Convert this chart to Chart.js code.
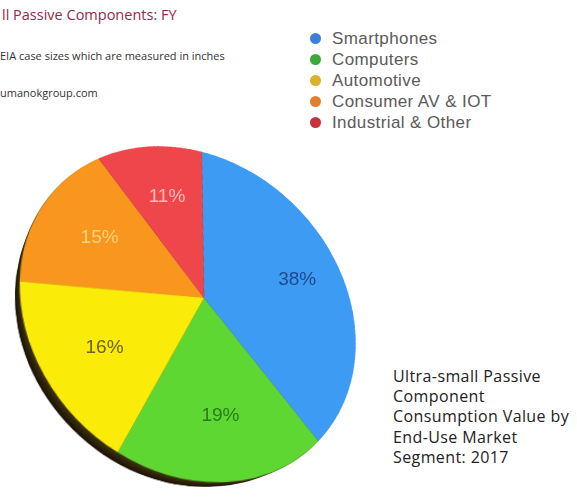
<!DOCTYPE html>
<html>
<head>
<meta charset="utf-8">
<script src="https://cdn.jsdelivr.net/npm/chart.js@4/dist/chart.umd.min.js"></script>
<style>
  html, body { margin: 0; padding: 0; background: #fff; }
  body { width: 577px; height: 504px; position: relative; overflow: hidden; }
  .title { position: absolute; left: 2px; top: 5px; font: 14.5px "Open Sans", sans-serif; color: #93294c; white-space: nowrap; }
  .note { position: absolute; left: 0; font: 11px "Open Sans", sans-serif; color: #333; white-space: nowrap; line-height: 15px; }
  #legend { position: absolute; left: 309px; top: 28px; }
  .row { height: 21px; display: flex; align-items: center; font: 17px "Liberation Sans", Arial, sans-serif; letter-spacing: 0.4px; color: #5a5a5a; white-space: nowrap; }
  .dot { width: 11px; height: 11px; border-radius: 50%; margin: 0 11px 0 1px; }
  .caption { position: absolute; left: 393px; top: 366px; font: 16px "Open Sans", sans-serif; letter-spacing: 0.4px; color: #222; line-height: 20.2px; }
  #stage { position: absolute; left: 4px; top: 98px; width: 400px; height: 400px;
           transform-origin: 200px 200px; transform-style: preserve-3d; }
  .wall { position: absolute; left: 20px; top: 20px; width: 360px; height: 360px; border-radius: 50%; }
  #pie { position: absolute; left: 0; top: 0; }
  .val { position: absolute; font: 19px "Liberation Sans", Arial, sans-serif; transform: translate(-50%, -50%); white-space: nowrap; }
</style>
</head>
<body>
<div class="title">ll Passive Components: FY</div>
<div class="note" style="top:48px">EIA case sizes which are measured in inches</div>
<div class="note" style="top:85px">umanokgroup.com</div>

<div id="legend"></div>

<div class="caption">Ultra-small Passive<br>Component<br>Consumption Value by<br>End-Use Market<br>Segment: 2017</div>

<div id="stage">
  <canvas id="pie" width="400" height="400"></canvas>
</div>
<div id="values"></div>

<script>
// Market segments and their share of consumption value (%)
const segments = ["Smartphones", "Computers", "Automotive", "Consumer AV & IOT", "Industrial & Other"];
const shares = [38, 19, 16, 15, 11];
const sliceColors = ["#3d9bf4", "#5fd732", "#fbeb08", "#f9961e", "#ef464b"];
const legendColors = ["#3b80d8", "#3ca83a", "#dbb22a", "#de8030", "#c8323f"];
const valueColors = ["#1f4a8e", "#2a7a1a", "#6b6418", "#ffd27a", "#ffbcbc"];

// tilt of the disc: perspective distance, tilt axis, tilt angle, thickness
const PERSP = 670, AXIS = [1, 1, 0], TILT = 34, THICK = 26;
const stage = document.getElementById('stage');
stage.style.transform = `perspective(${PERSP}px) rotate3d(${AXIS.join(',')},${TILT}deg)`;

// side wall of the disc: stacked dark layers behind the face
for (let z = THICK; z > 0; z -= 2) {
  const w = document.createElement('div');
  w.className = 'wall';
  const k = z / THICK;
  const c = Math.round(16 + 36 * (1 - k));
  w.style.background = `rgb(${c + 10},${c},${Math.round(c * 0.25)})`;
  w.style.transform = `translateZ(${-z}px)`;
  stage.insertBefore(w, stage.firstChild);
}

// legend
const legend = document.getElementById('legend');
segments.forEach((s, i) => {
  const r = document.createElement('div');
  r.className = 'row';
  r.innerHTML = `<span class="dot" style="background:${legendColors[i]}"></span>${s}`;
  legend.appendChild(r);
});

const chart = new Chart(document.getElementById('pie'), {
  type: 'pie',
  data: {
    labels: segments,
    datasets: [{
      data: shares,
      backgroundColor: sliceColors,
      borderWidth: 0,
      radius: 180
    }]
  },
  options: {
    responsive: false,
    animation: false,
    devicePixelRatio: 1,
    rotation: 4.5,
    layout: { padding: 0 },
    plugins: { legend: { display: false }, tooltip: { enabled: false } }
  }
});

// value labels: placed at each slice's mid-angle, projected onto the page
const rot = new DOMMatrix().rotateAxisAngle(AXIS[0], AXIS[1], AXIS[2], TILT);
function project(x, y) {
  const p = rot.transformPoint(new DOMPoint(x - 200, y - 200, 0));
  const f = PERSP / (PERSP - p.z);
  return [4 + 200 + p.x * f, 98 + 200 + p.y * f];
}
const values = document.getElementById('values');
chart.getDatasetMeta(0).data.forEach((arc, i) => {
  const { x, y, startAngle, endAngle, outerRadius } = arc.getProps(['x', 'y', 'startAngle', 'endAngle', 'outerRadius'], true);
  const mid = (startAngle + endAngle) / 2;
  const r = outerRadius * 0.66;
  const [px, py] = project(x + Math.cos(mid) * r, y + Math.sin(mid) * r);
  const el = document.createElement('div');
  el.className = 'val';
  el.style.left = px + 'px';
  el.style.top = py + 'px';
  el.style.color = valueColors[i];
  el.textContent = shares[i] + '%';
  values.appendChild(el);
});
</script>
</body>
</html>
